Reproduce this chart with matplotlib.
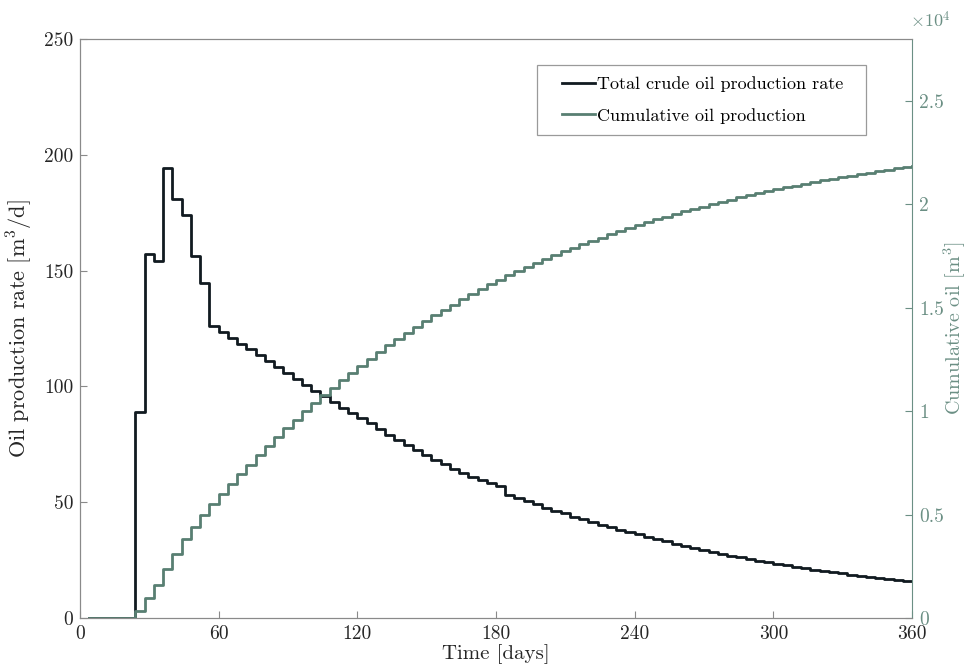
import numpy as np
import matplotlib
matplotlib.use("Agg")
import matplotlib.pyplot as plt
from matplotlib.patches import Rectangle
from matplotlib.ticker import FuncFormatter

plt.rcParams['font.family'] = 'cmr10'
plt.rcParams['mathtext.fontset'] = 'cm'
plt.rcParams['axes.unicode_minus'] = False

# report steps every 4 days
days = np.arange(4, 361, 4)

# oil rate [m3/d] per report step
oil_rate = [0, 0, 0, 0, 0,
            89, 157, 154, 194.5, 181, 174, 156.5, 144.5, 126,
            123.5, 121, 118.5, 116, 113.5, 111, 108.5, 105.8, 103.4, 100.7,
            98, 95.7, 93.4, 90.7, 88.4, 86.2, 84, 81.5, 79.2, 77,
            74.8, 72.6, 70.5, 68.4, 66.3, 64.5, 62.8, 61, 59.5, 58.2,
            57, 53.3, 52, 50.6, 49.1, 47.6, 46.3, 45.2, 43.7, 42.6,
            41.3, 40.2, 39.2, 38, 37, 36.3, 35.1, 34.1, 33.1, 32,
            31.1, 30.2, 29.4, 28.5, 27.6, 26.9, 26.2, 25.3, 24.7, 24,
            23.5, 22.8, 22.2, 21.4, 20.9, 20.3, 19.9, 19.3, 18.7, 18.3,
            17.8, 17.3, 16.8, 16.4, 16, 15.8]

# cumulative oil [m3]
cum_oil = [0, 0, 0, 0, 0,
           360, 980, 1600, 2380, 3100, 3800, 4420, 5000, 5510,
           6000, 6480, 6960, 7420, 7880, 8320, 8750, 9180, 9590, 9990,
           10390, 10770, 11140, 11510, 11860, 12200, 12540, 12870, 13180, 13490,
           13790, 14080, 14360, 14640, 14900, 15160, 15410, 15650, 15890, 16130,
           16350, 16570, 16770, 16980, 17170, 17360, 17550, 17730, 17900, 18070,
           18240, 18400, 18560, 18710, 18860, 19000, 19140, 19280, 19410, 19540,
           19660, 19790, 19900, 20020, 20130, 20230, 20340, 20440, 20540, 20640,
           20730, 20820, 20910, 21000, 21080, 21160, 21240, 21320, 21390, 21470,
           21540, 21610, 21670, 21740, 21800, 21870]

x_ticks = [0, 60, 120, 180, 240, 300, 360]
rate_ticks = [0, 50, 100, 150, 200, 250]
cum_ticks = [0, 5000, 10000, 15000, 20000, 25000]

c_rate = '#111a20'
c_cum = '#587f72'
c_cum_axis = '#6b8f84'
c_axis = '#8a8a8a'
c_text = '#262626'

fig = plt.figure(figsize=(9.7, 6.69), dpi=100)
ax = fig.add_axes([0.0825, 0.0762, 0.8577, 0.8655])
ax2 = ax.twinx()

l1, = ax.step(days, oil_rate, where='post', color=c_rate, lw=2.0,
              label='Total crude oil production rate')
l2, = ax2.step(days, cum_oil, where='post', color=c_cum, lw=2.0,
               label='Cumulative oil production')

ax.set_xlim(0, 360)
ax.set_ylim(0, 250)
ax2.set_ylim(0, 28000)
ax.set_xticks(x_ticks)
ax.set_yticks(rate_ticks)
ax2.set_yticks(cum_ticks)
ax2.yaxis.set_major_formatter(FuncFormatter(lambda v, p: f'{v / 1e4:g}'))

ax.tick_params(axis='both', direction='in', length=5, width=0.8,
               color=c_axis, labelcolor=c_text, labelsize=14, pad=5)
ax.tick_params(axis='y', right=False)
ax2.tick_params(axis='y', direction='in', length=5, width=0.8,
                color=c_cum_axis, labelcolor=c_cum_axis, labelsize=14, pad=5)

for s in ['left', 'bottom', 'top']:
    ax.spines[s].set_color(c_axis)
    ax2.spines[s].set_color(c_axis)
ax2.spines['right'].set_color(c_cum_axis)
ax.spines['right'].set_visible(False)

ax.set_xlabel('Time [days]', fontsize=15, color=c_text, labelpad=1)
ax.set_ylabel('Oil production rate [m$^3$/d]', fontsize=16, color=c_text, labelpad=6)
ax2.set_ylabel('Cumulative oil [m$^3$]', fontsize=14.5, color=c_cum_axis)
ax2.yaxis.set_label_coords(1.036, 0.5)
ax2.text(1.022, 1.033, r'$\times10^{4}$', transform=ax2.transAxes,
         ha='center', va='center', fontsize=13, color=c_cum_axis)

# legend box with wide side margins
ax2.add_patch(Rectangle((0.549, 0.834), 0.3954, 0.1209, transform=ax2.transAxes,
                        facecolor='white', edgecolor='#9a9a9a', lw=0.9, zorder=4))
leg = ax2.legend(handles=[l1, l2], loc='upper left', bbox_to_anchor=(0.5795, 0.935),
                 borderaxespad=0, borderpad=0, fontsize=13, frameon=False,
                 handlelength=1.8, handletextpad=0.15, labelspacing=0.85)
leg.set_zorder(5)

fig.savefig('out.png', dpi=100)
